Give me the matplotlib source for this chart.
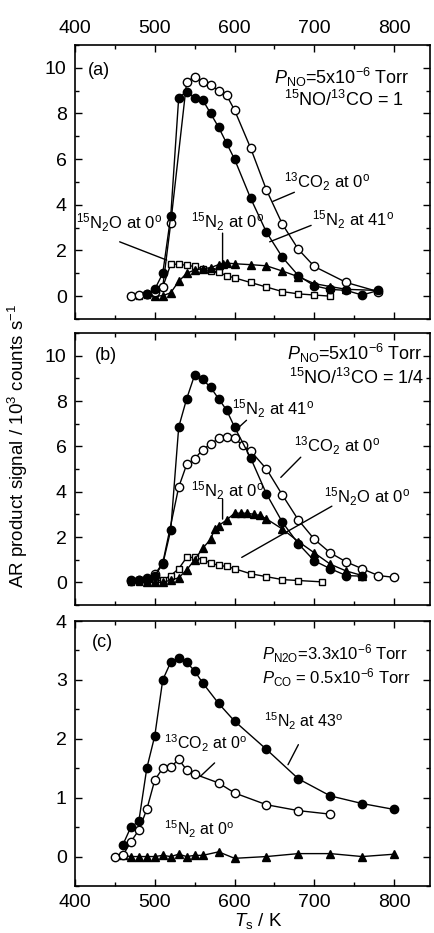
import matplotlib
matplotlib.use("Agg")
import matplotlib.pyplot as plt
from matplotlib.ticker import MultipleLocator

plt.rcParams['font.family'] = ['Liberation Sans', 'DejaVu Sans']
plt.rcParams['mathtext.fontset'] = 'custom'
plt.rcParams['mathtext.rm'] = 'Liberation Sans'
plt.rcParams['mathtext.it'] = 'Liberation Sans:italic'
plt.rcParams['mathtext.bf'] = 'Liberation Sans:bold'

# ---- panel (a): 15NO/13CO = 1 ----
T_a_co2 = [470, 480, 490, 500, 510, 520, 540, 550, 560, 570, 580, 590, 600, 620, 640, 660, 680, 700, 740, 780]
s_a_co2 = [0.0, 0.05, 0.1, 0.2, 0.4, 3.2, 9.4, 9.6, 9.4, 9.25, 9.0, 8.8, 8.15, 6.5, 4.65, 3.15, 2.05, 1.3, 0.6, 0.2]
T_a_n2hot = [490, 500, 510, 520, 530, 540, 550, 560, 570, 580, 590, 600, 620, 640, 660, 680, 700, 720, 740, 760, 780]
s_a_n2hot = [0.1, 0.3, 1.0, 3.5, 8.7, 8.95, 8.7, 8.6, 8.0, 7.4, 6.7, 6.0, 4.3, 2.8, 1.7, 0.9, 0.45, 0.3, 0.25, 0.05, 0.25]
T_a_n2 = [500, 510, 520, 530, 540, 550, 560, 570, 580, 585, 590, 600, 620, 640, 660, 680, 700, 720, 740, 780]
s_a_n2 = [0.0, 0.02, 0.15, 0.65, 1.0, 1.15, 1.2, 1.25, 1.38, 1.42, 1.45, 1.42, 1.38, 1.33, 1.1, 0.85, 0.55, 0.42, 0.3, 0.25]
T_a_n2o = [470, 480, 490, 500, 510, 520, 530, 540, 550, 560, 570, 580, 590, 600, 620, 640, 660, 680, 700, 720]
s_a_n2o = [0.0, 0.02, 0.05, 0.15, 0.4, 1.4, 1.4, 1.35, 1.3, 1.2, 1.1, 1.05, 0.9, 0.8, 0.6, 0.4, 0.2, 0.1, 0.05, 0.0]

# ---- panel (b): 15NO/13CO = 1/4 ----
T_b_co2 = [470, 480, 490, 500, 510, 530, 540, 550, 560, 570, 580, 590, 600, 610, 620, 640, 660, 680, 700, 720, 740, 760, 780, 800]
s_b_co2 = [0.05, 0.1, 0.2, 0.35, 0.85, 4.2, 5.2, 5.45, 5.85, 6.1, 6.35, 6.4, 6.35, 6.05, 5.8, 5.0, 3.85, 2.75, 1.9, 1.3, 0.9, 0.6, 0.3, 0.22]
T_b_n2hot = [470, 480, 490, 500, 510, 520, 530, 540, 550, 560, 570, 580, 590, 600, 620, 640, 660, 680, 700, 720, 740, 760]
s_b_n2hot = [0.1, 0.1, 0.15, 0.3, 0.8, 2.3, 6.85, 8.1, 9.15, 8.95, 8.6, 8.1, 7.6, 6.85, 5.5, 3.9, 2.65, 1.7, 0.95, 0.6, 0.3, 0.27]
T_b_n2 = [490, 500, 510, 520, 530, 540, 550, 560, 570, 575, 580, 590, 600, 608, 616, 624, 632, 640, 660, 680, 700, 720, 740, 760]
s_b_n2 = [0.0, 0.0, 0.0, 0.1, 0.2, 0.55, 1.0, 1.5, 1.9, 2.35, 2.5, 2.75, 3.05, 3.05, 3.05, 3.0, 2.95, 2.8, 2.35, 1.8, 1.3, 0.8, 0.5, 0.3]
T_b_n2o = [470, 480, 490, 500, 510, 520, 530, 540, 550, 560, 570, 580, 590, 600, 620, 640, 660, 680, 710]
s_b_n2o = [0.0, 0.0, 0.0, 0.05, 0.1, 0.3, 0.6, 1.1, 1.1, 1.0, 0.85, 0.75, 0.7, 0.6, 0.38, 0.25, 0.12, 0.08, 0.02]

# ---- panel (c): N2O + CO ----
T_c_n2hot = [460, 470, 480, 490, 500, 510, 520, 530, 540, 550, 560, 580, 600, 640, 680, 720, 760, 800]
s_c_n2hot = [0.2, 0.5, 0.6, 1.5, 2.05, 3.0, 3.3, 3.38, 3.3, 3.15, 2.95, 2.6, 2.3, 1.82, 1.32, 1.03, 0.9, 0.8]
T_c_co2 = [450, 460, 470, 480, 490, 500, 510, 520, 530, 540, 550, 580, 600, 640, 680, 720]
s_c_co2 = [0.0, 0.02, 0.25, 0.45, 0.8, 1.3, 1.5, 1.52, 1.65, 1.47, 1.4, 1.25, 1.08, 0.88, 0.78, 0.72]
T_c_n2 = [460, 470, 480, 490, 500, 510, 520, 530, 540, 550, 560, 580, 600, 640, 680, 720, 760, 800]
s_c_n2 = [0.02, 0.0, 0.0, 0.0, 0.0, 0.02, 0.0, 0.04, 0.0, 0.02, 0.02, 0.08, -0.03, 0.0, 0.05, 0.05, 0.0, 0.04]

W, H = 435, 933
fig = plt.figure(figsize=(W / 100, H / 100), dpi=100)

left = 75 / W
width = 355 / W
ax_a = fig.add_axes([left, 1 - 319 / H, width, 274 / H])
ax_b = fig.add_axes([left, 1 - 605 / H, width, 272 / H])
ax_c = fig.add_axes([left, 1 - 886 / H, width, 265 / H])


def draw(ax, T, s, kind):
    if kind == 'fc':
        ax.plot(T, s, '-o', color='black', mfc='black', mec='black', ms=6, lw=1.0, zorder=4)
    elif kind == 'oc':
        ax.plot(T, s, '-o', color='black', mfc='white', mec='black', ms=6, mew=1.0, lw=1.0, zorder=3)
    elif kind == 'tri':
        ax.plot(T, s, '-^', color='black', mfc='black', mec='black', ms=6, lw=1.0, zorder=3)
    elif kind == 'sq':
        ax.plot(T, s, '-s', color='black', mfc='white', mec='black', ms=5, mew=1.0, lw=1.0, zorder=3)


def style(ax, ymin, ymax, ymaj, ymin_step):
    ax.set_xlim(400, 845)
    ax.set_ylim(ymin, ymax)
    ax.xaxis.set_major_locator(MultipleLocator(100))
    ax.xaxis.set_minor_locator(MultipleLocator(50))
    ax.yaxis.set_major_locator(MultipleLocator(ymaj))
    ax.yaxis.set_minor_locator(MultipleLocator(ymin_step))
    ax.tick_params(which='both', direction='in', top=True, right=True, labelsize=14, width=1.0)
    ax.tick_params(which='major', length=5, pad=6)
    ax.tick_params(which='minor', length=3)
    for sp in ax.spines.values():
        sp.set_linewidth(1.2)


# leader line from a label to its curve
def leader(ax, xy, xytext):
    ax.annotate('', xy=xy, xytext=xytext,
                arrowprops=dict(arrowstyle='-', color='black', lw=1.0, shrinkA=0, shrinkB=0))


# panel (a)
draw(ax_a, T_a_n2o, s_a_n2o, 'sq')
draw(ax_a, T_a_n2, s_a_n2, 'tri')
draw(ax_a, T_a_co2, s_a_co2, 'oc')
draw(ax_a, T_a_n2hot, s_a_n2hot, 'fc')
style(ax_a, -1, 11, 2, 1)
ax_a.tick_params(labeltop=True, labelbottom=False)
ax_a.text(416, 9.9, '(a)', fontsize=13, va='center')
ax_a.text(820, 9.6, r'$P_{\rm NO}$=5x10$^{-6}$ Torr', fontsize=13, ha='right', va='center')
ax_a.text(812, 8.6, r'$^{15}$NO/$^{13}$CO = 1', fontsize=13, ha='right', va='center')
ax_a.text(662, 5.0, r'$^{13}$CO$_2$ at 0$^{\rm o}$', fontsize=12, va='center')
ax_a.text(697, 3.33, r'$^{15}$N$_2$ at 41$^{\rm o}$', fontsize=12, va='center')
ax_a.text(401, 3.2, r'$^{15}$N$_2$O at 0$^{\rm o}$', fontsize=12, va='center')
ax_a.text(546, 3.25, r'$^{15}$N$_2$ at 0$^{\rm o}$', fontsize=12, va='center')
leader(ax_a, (648, 4.15), (675, 4.55))
leader(ax_a, (644, 2.38), (696, 3.1))
leader(ax_a, (515, 1.58), (456, 2.38))
leader(ax_a, (585, 1.45), (585, 2.76))

# panel (b)
draw(ax_b, T_b_n2o, s_b_n2o, 'sq')
draw(ax_b, T_b_n2, s_b_n2, 'tri')
draw(ax_b, T_b_co2, s_b_co2, 'oc')
draw(ax_b, T_b_n2hot, s_b_n2hot, 'fc')
style(ax_b, -1, 11, 2, 1)
ax_b.tick_params(labeltop=False, labelbottom=False)
ax_b.text(425, 10.0, '(b)', fontsize=13, va='center')
ax_b.text(836, 10.1, r'$P_{\rm NO}$=5x10$^{-6}$ Torr', fontsize=13, ha='right', va='center')
ax_b.text(838, 9.0, r'$^{15}$NO/$^{13}$CO = 1/4', fontsize=13, ha='right', va='center')
ax_b.text(597, 7.65, r'$^{15}$N$_2$ at 41$^{\rm o}$', fontsize=12, va='center')
ax_b.text(675, 6.02, r'$^{13}$CO$_2$ at 0$^{\rm o}$', fontsize=12, va='center')
ax_b.text(546, 4.03, r'$^{15}$N$_2$ at 0$^{\rm o}$', fontsize=12, va='center')
ax_b.text(712, 3.8, r'$^{15}$N$_2$O at 0$^{\rm o}$', fontsize=12, va='center')
leader(ax_b, (601, 6.7), (615, 7.15))
leader(ax_b, (658, 4.63), (683, 5.52))
leader(ax_b, (585, 2.79), (585, 3.67))
leader(ax_b, (609, 1.1), (722, 3.36))

# panel (c)
draw(ax_c, T_c_n2, s_c_n2, 'tri')
draw(ax_c, T_c_co2, s_c_co2, 'oc')
draw(ax_c, T_c_n2hot, s_c_n2hot, 'fc')
style(ax_c, -0.5, 4, 1, 0.5)
ax_c.text(421, 3.63, '(c)', fontsize=13, va='center')
ax_c.text(634, 3.44, r'$P_{\rm N2O}$=3.3x10$^{-6}$ Torr', fontsize=12, va='center')
ax_c.text(634, 3.03, r'$P_{\rm CO}$ = 0.5x10$^{-6}$ Torr', fontsize=12, va='center')
ax_c.text(637, 2.29, r'$^{15}$N$_2$ at 43$^{\rm o}$', fontsize=11.5, va='center')
ax_c.text(511, 1.93, r'$^{13}$CO$_2$ at 0$^{\rm o}$', fontsize=11.5, va='center')
ax_c.text(511, 0.46, r'$^{15}$N$_2$ at 0$^{\rm o}$', fontsize=11.5, va='center')
leader(ax_c, (667, 1.56), (680, 1.9))
leader(ax_c, (557, 1.36), (575, 1.59))

fig.text(18 / W, 1 - 446 / H, r'AR product signal / 10$^3$ counts s$^{-1}$',
         rotation=90, ha='center', va='center', fontsize=13.5)
fig.text(258 / W, 1 - 931 / H, r'$T_{\rm s}$ / K', ha='center', va='bottom', fontsize=13.5)

fig.savefig('out.png', dpi=100)
